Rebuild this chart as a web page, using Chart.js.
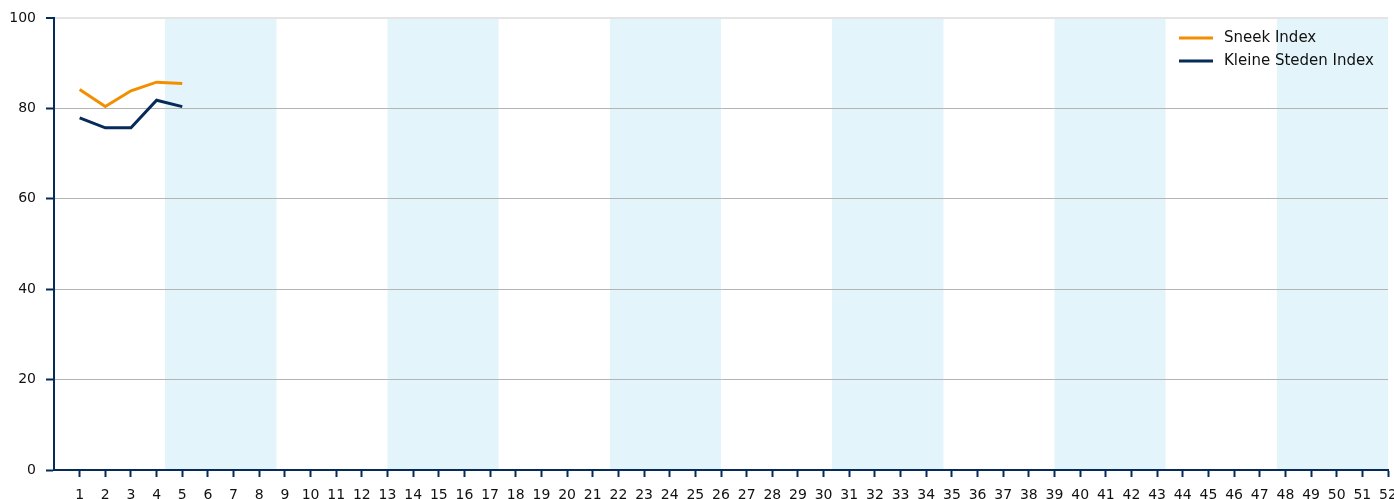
<!DOCTYPE html>
<html>
<head>
<meta charset="utf-8">
<script src="https://cdn.jsdelivr.net/npm/chart.js@4/dist/chart.umd.min.js"></script>
<style>
  html, body { margin: 0; padding: 0; background: #fff; overflow: hidden; }
  #wrap { width: 1394px; height: 499px; }
</style>
</head>
<body>
<div id="wrap"><canvas id="chart" width="1394" height="499"></canvas></div>
<script>
// Weekly index values (week number on x axis)
const weeks = [1, 2, 3, 4, 5];
const sneekIndex = [84.2, 80.4, 83.9, 85.8, 85.5];
const kleineStedenIndex = [77.9, 75.7, 75.7, 81.8, 80.4];

// Shaded month bands, in weeks
const bandFrom = [4.33, 13, 21.67, 30.33, 39, 47.67];
const bandTo = [8.67, 17.33, 26, 34.67, 43.33, 52];

const navy = '#062b59';
const orange = '#f28e00';
const fontFamily = '"DejaVu Sans", sans-serif';

// Light blue month bands behind everything
const bandsPlugin = {
    id: 'bands',
    beforeDraw(chart) {
        const { ctx, chartArea, scales } = chart;
        ctx.save();
        ctx.fillStyle = '#e3f4fa';
        bandFrom.forEach((from, i) => {
            const x1 = scales.x.getPixelForValue(from);
            const x2 = scales.x.getPixelForValue(bandTo[i]);
            ctx.fillRect(x1, chartArea.top, x2 - x1, chartArea.bottom - chartArea.top);
        });
        ctx.restore();
    }
};

// Legend drawn inside the top right of the plot
const legendPlugin = {
    id: 'innerLegend',
    afterDatasetsDraw(chart) {
        const { ctx, chartArea } = chart;
        ctx.save();
        ctx.font = '15px ' + fontFamily;
        ctx.textBaseline = 'middle';
        chart.data.datasets.forEach((ds, i) => {
            const y = chartArea.top + 20 + i * 23;
            const x = chartArea.right - 209;
            ctx.strokeStyle = ds.borderColor;
            ctx.lineWidth = 3;
            ctx.beginPath();
            ctx.moveTo(x, y);
            ctx.lineTo(x + 34, y);
            ctx.stroke();
            ctx.fillStyle = '#111';
            ctx.fillText(ds.label, x + 45, y);
        });
        ctx.restore();
    }
};

const ctx = document.getElementById('chart').getContext('2d');
new Chart(ctx, {
    type: 'line',
    data: {
        datasets: [
            {
                label: 'Sneek Index',
                data: weeks.map((w, i) => ({ x: w, y: sneekIndex[i] })),
                borderColor: orange,
                borderWidth: 3,
                pointRadius: 0,
                tension: 0
            },
            {
                label: 'Kleine Steden Index',
                data: weeks.map((w, i) => ({ x: w, y: kleineStedenIndex[i] })),
                borderColor: navy,
                borderWidth: 3,
                pointRadius: 0,
                tension: 0
            }
        ]
    },
    options: {
        responsive: false,
        animation: false,
        layout: { padding: { top: 18, right: 6, left: 0, bottom: 0 } },
        plugins: {
            legend: { display: false },
            tooltip: { enabled: false }
        },
        scales: {
            x: {
                type: 'linear',
                min: 0,
                max: 52,
                afterBuildTicks: (scale) => {
                    scale.ticks = scale.ticks.filter(t => t.value >= 1);
                },
                afterFit: (scale) => {
                    scale.height = 29;
                    scale.paddingLeft = 0;
                    scale.paddingRight = 0;
                },
                ticks: {
                    stepSize: 1,
                    autoSkip: false,
                    maxRotation: 0,
                    padding: 10,
                    color: '#111',
                    font: { family: fontFamily, size: 14 }
                },
                grid: {
                    drawOnChartArea: false,
                    drawTicks: true,
                    tickLength: 7,
                    tickColor: navy,
                    tickWidth: 2
                },
                border: { color: navy, width: 2 }
            },
            y: {
                min: 0,
                max: 100,
                afterFit: (scale) => {
                    scale.width = 54;
                    scale.paddingTop = 0;
                    scale.paddingBottom = 0;
                },
                ticks: {
                    stepSize: 20,
                    padding: 10,
                    color: '#111',
                    font: { family: fontFamily, size: 14 }
                },
                grid: {
                    color: (c) => c.tick && c.tick.value === 100 ? '#e4e4e4' : '#b4b4b4',
                    lineWidth: (c) => c.tick && c.tick.value === 100 ? 2 : 1,
                    tickLength: 8,
                    tickColor: navy,
                    tickWidth: 2
                },
                border: { color: navy, width: 2 }
            }
        }
    },
    plugins: [bandsPlugin, legendPlugin]
});
</script>
</body>
</html>
